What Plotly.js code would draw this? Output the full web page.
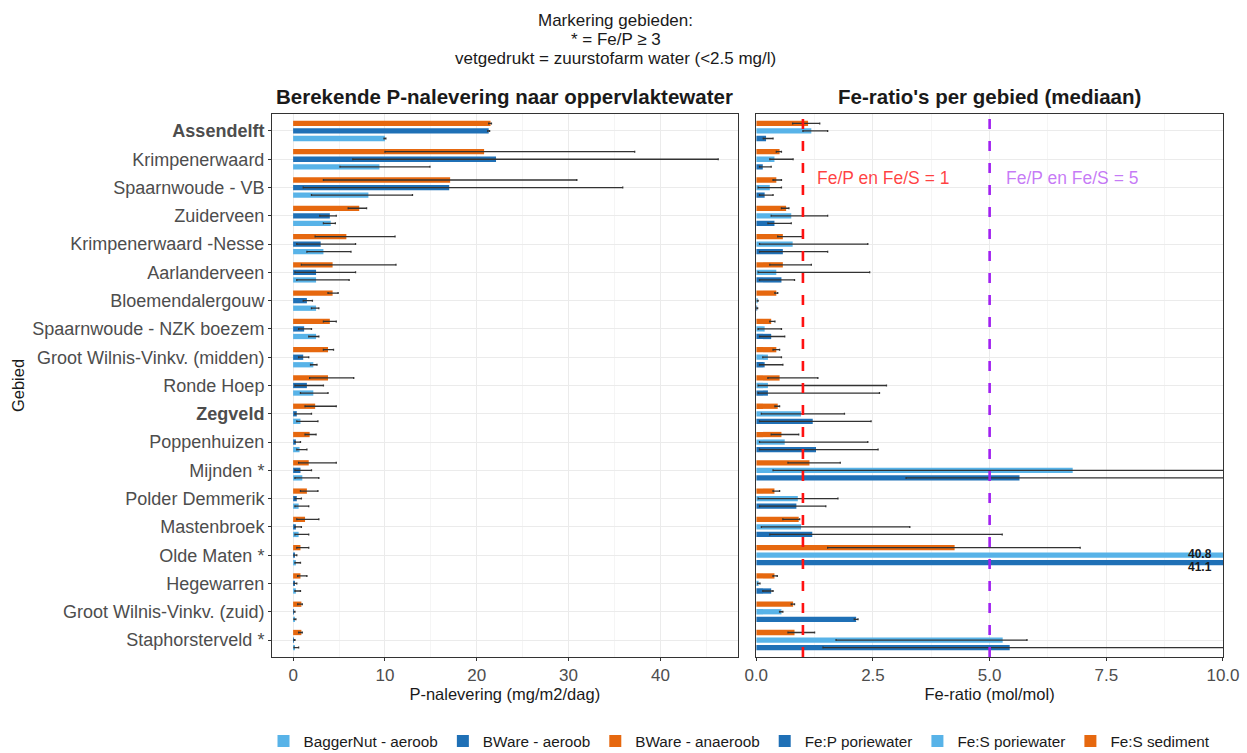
<!DOCTYPE html>
<html>
<head>
<meta charset="utf-8">
<script src="https://cdn.plot.ly/plotly-3.0.1.min.js"></script>
<style>html,body{margin:0;padding:0;background:#fff;}#chart{width:1247px;height:753px;}</style>
</head>
<body>
<div id="chart"></div>
<script>
// ---- categories ----
const categories = ["Assendelft","Krimpenerwaard","Spaarnwoude - VB","Zuiderveen","Krimpenerwaard -Nesse","Aarlanderveen","Bloemendalergouw","Spaarnwoude - NZK boezem","Groot Wilnis-Vinkv. (midden)","Ronde Hoep","Zegveld","Poppenhuizen","Mijnden *","Polder Demmerik","Mastenbroek","Olde Maten *","Hegewarren","Groot Wilnis-Vinkv. (zuid)","Staphorsterveld *"];
const boldCategories = ["Assendelft","Zegveld"];
const tickLabels = categories.map(c => boldCategories.includes(c) ? "<b>" + c + "</b>" : c);

const titleLines = ["Markering gebieden:", "* = Fe/P ≥ 3", "vetgedrukt = zuurstofarm water (&lt;2.5 mg/l)"];

// ---- left panel: P-nalevering (mg/m2/dag) ----
const bwareAnaeroob    = [21.5, 20.8, 17.1, 7.2, 5.8, 4.3, 4.3, 4.0, 3.8, 3.8, 2.4, 1.8, 1.7, 1.5, 1.3, 0.8, 0.8, 0.9, 0.9];
const bwareAnaeroobLo  = [21.3, 10.0, 3.3, 6.0, 2.4, 0.9, 3.8, 3.3, 3.3, 1.8, 1.3, 1.3, 0.6, 0.8, 0.4, 0.4, 0.5, 0.5, 0.6];
const bwareAnaeroobHi  = [21.6, 37.2, 30.9, 8.0, 11.1, 11.2, 4.9, 4.7, 4.4, 6.6, 4.7, 2.5, 4.7, 2.7, 2.8, 1.7, 1.5, 1.0, 1.0];

const bwareAeroob      = [21.3, 22.1, 17.0, 4.0, 3.0, 2.5, 1.5, 1.2, 1.1, 1.5, 0.4, 0.3, 0.8, 0.4, 0.3, 0.2, 0.2, 0.1, 0.1];
const bwareAeroobLo    = [21.2, 6.5, 1.1, 2.9, 0.4, 0.2, 1.1, 0.6, 0.6, 0.2, 0.2, 0.2, 0.2, 0.2, 0.2, 0.1, 0.1, 0.1, 0.1];
const bwareAeroobHi    = [21.4, 46.3, 35.9, 4.7, 6.8, 6.8, 2.1, 2.0, 1.7, 3.3, 2.0, 0.8, 2.0, 0.9, 0.9, 0.4, 0.4, 0.2, 0.2];

const baggerNutAeroob   = [10.0, 9.4, 8.2, 4.1, 3.3, 2.5, 2.5, 2.5, 2.2, 2.2, 0.8, 0.7, 1.0, 0.6, 0.6, 0.3, 0.3, 0.2, 0.2];
const baggerNutAeroobLo = [9.9, 5.1, 2.0, 3.3, 1.5, 0.4, 2.0, 1.7, 1.9, 0.8, 0.4, 0.4, 0.2, 0.2, 0.2, 0.2, 0.2, 0.1, 0.1];
const baggerNutAeroobHi = [10.1, 14.9, 13.0, 4.6, 6.3, 6.1, 2.8, 2.8, 2.6, 3.8, 2.7, 1.5, 2.8, 1.7, 1.7, 0.8, 0.8, 0.3, 0.6];

// ---- right panel: Fe-ratio (mol/mol) ----
const feSSediment     = [1.11, 0.50, 0.43, 0.64, 0.57, 0.57, 0.43, 0.32, 0.43, 0.50, 0.46, 0.54, 1.14, 0.39, 0.91, 4.25, 0.39, 0.79, 0.82];
const feSSedimentLo   = [0.78, 0.43, 0.36, 0.54, 0.46, 0.29, 0.40, 0.29, 0.36, 0.25, 0.40, 0.32, 0.68, 0.36, 0.57, 1.53, 0.36, 0.75, 0.68];
const feSSedimentHi   = [1.36, 0.54, 0.54, 0.70, 1.00, 1.18, 0.46, 0.40, 0.50, 1.32, 0.50, 0.91, 1.80, 0.50, 0.93, 6.94, 0.45, 0.82, 1.25];

const feSPorie        = [1.18, 0.39, 0.29, 0.75, 0.78, 0.43, 0.03, 0.18, 0.25, 0.25, 0.96, 0.61, 6.78, 0.89, 0.96, 40.8, 0.05, 0.54, 5.28];
const feSPorieLo      = [1.00, 0.29, 0.04, 0.32, 0.07, 0.04, 0.02, 0.04, 0.14, 0.04, 0.11, 0.07, 0.36, 0.04, 0.11, 40.8, 0.03, 0.50, 1.71];
const feSPorieHi      = [1.53, 0.79, 0.54, 1.53, 2.39, 2.43, 0.04, 0.54, 0.54, 2.79, 1.89, 2.39, 12.0, 1.75, 3.29, 40.8, 0.08, 0.57, 5.80];

const fePPorie        = [0.21, 0.14, 0.18, 0.39, 0.57, 0.54, 0.02, 0.32, 0.18, 0.25, 1.21, 1.28, 5.64, 0.86, 1.20, 41.1, 0.32, 2.14, 5.43];
const fePPorieLo      = [0.15, 0.07, 0.07, 0.25, 0.07, 0.07, 0.01, 0.07, 0.07, 0.04, 0.07, 0.07, 3.21, 0.07, 0.29, 41.1, 0.14, 2.10, 1.43];
const fePPorieHi      = [0.36, 0.32, 0.36, 0.75, 1.53, 0.82, 0.03, 0.61, 0.57, 2.64, 2.46, 2.61, 14.0, 1.49, 5.27, 41.1, 0.36, 2.18, 14.0];

const clippedLabels = ["40.8", "41.1"];

const ORANGE = "#E6680F", DARK = "#1F70B6", LIGHT = "#58B3E8";
const FONT = "Liberation Sans, Arial, sans-serif";

function barTrace(name, vals, lo, hi, color, xa, ya, rank) {
  return {
    type: "bar", orientation: "h", name: name,
    x: vals, y: categories, xaxis: xa, yaxis: ya,
    marker: {color: color, line: {width: 0}},
    legendrank: rank,
    error_x: {
      type: "data", symmetric: false,
      array: vals.map((v, i) => Math.max(0, hi[i] - v)),
      arrayminus: vals.map((v, i) => Math.max(0, v - lo[i])),
      color: "#333333", thickness: 1.3, width: 1
    },
    hoverinfo: "x+y+name"
  };
}

const data = [
  barTrace("BWare - anaeroob", bwareAnaeroob, bwareAnaeroobLo, bwareAnaeroobHi, ORANGE, "x", "y", 3),
  barTrace("BWare - aeroob", bwareAeroob, bwareAeroobLo, bwareAeroobHi, DARK, "x", "y", 2),
  barTrace("BaggerNut - aeroob", baggerNutAeroob, baggerNutAeroobLo, baggerNutAeroobHi, LIGHT, "x", "y", 1),
  barTrace("Fe:S sediment", feSSediment, feSSedimentLo, feSSedimentHi, ORANGE, "x2", "y2", 6),
  barTrace("Fe:S poriewater", feSPorie, feSPorieLo, feSPorieHi, LIGHT, "x2", "y2", 5),
  barTrace("Fe:P poriewater", fePPorie, fePPorieLo, fePPorieHi, DARK, "x2", "y2", 4)
];

const gridCol = "#EBEBEB";
const axisCommon = {
  showline: true, mirror: true, linecolor: "#333333", linewidth: 1,
  gridcolor: gridCol, gridwidth: 1, zeroline: false,
  ticks: "outside", ticklen: 3, tickcolor: "#333333",
  tickfont: {family: FONT, size: 17, color: "#4D4D4D"}
};

const titleY = [20, 40, 59];
const annTitle = titleLines.map((t, i) => ({
  text: t, xref: "paper", yref: "paper", x: 0.3613, y: 1 + (114 - titleY[i]) / 543,
  xanchor: "center", yanchor: "middle", showarrow: false,
  font: {family: FONT, size: 17, color: "#1a1a1a"}
}));

const layout = {
  width: 1247, height: 753,
  paper_bgcolor: "#fff", plot_bgcolor: "#fff",
  margin: {l: 272, r: 24, t: 114, b: 96, autoexpand: false},
  font: {family: FONT, color: "#1a1a1a"},
  barmode: "group", bargap: 0.2, bargroupgap: 0.3,
  xaxis: Object.assign({}, axisCommon, {
    domain: [0, 0.4895], range: [-2.3, 48.4],
    tickvals: [0, 10, 20, 30, 40],
    minor: {dtick: 5, tick0: 0, showgrid: true, gridcolor: "#F5F5F5", gridwidth: 1, ticks: ""},
    title: {text: "P-nalevering (mg/m2/dag)", font: {family: FONT, size: 16.5, color: "#1a1a1a"}, standoff: 0}
  }),
  yaxis: Object.assign({}, axisCommon, {
    domain: [0, 1], type: "category", range: [18.6, -0.6],
    tickvals: categories, ticktext: tickLabels,
    tickfont: {family: FONT, size: 18, color: "#4D4D4D"},
    title: {text: "Gebied", font: {family: FONT, size: 16.5, color: "#1a1a1a"}, standoff: 3}
  }),
  xaxis2: Object.assign({}, axisCommon, {
    domain: [0.5092, 1], range: [0, 10], anchor: "y2",
    tickvals: [0, 2.5, 5, 7.5, 10], ticktext: ["0.0", "2.5", "5.0", "7.5", "10.0"],
    minor: {dtick: 1.25, tick0: 0, showgrid: true, gridcolor: "#F5F5F5", gridwidth: 1, ticks: ""},
    title: {text: "Fe-ratio (mol/mol)", font: {family: FONT, size: 16.5, color: "#1a1a1a"}, standoff: 0}
  }),
  yaxis2: Object.assign({}, axisCommon, {
    domain: [0, 1], type: "category", range: [18.6, -0.6], anchor: "x2",
    matches: "y", showticklabels: false, ticks: ""
  }),
  showlegend: true,
  legend: {
    orientation: "h", xref: "paper", x: 0.4916, xanchor: "center",
    yref: "paper", y: -0.155, yanchor: "middle",
    font: {family: FONT, size: 15.3, color: "#1a1a1a"},
    itemwidth: 30, traceorder: "normal"
  },
  shapes: [
    {type: "line", xref: "x2", yref: "paper", x0: 1, x1: 1, y0: 0, y1: 1,
     line: {color: "#FF1111", width: 2.6, dash: "10px,12px"}},
    {type: "line", xref: "x2", yref: "paper", x0: 5, x1: 5, y0: 0, y1: 1,
     line: {color: "#A020F0", width: 2.6, dash: "10px,12px"}}
  ],
  annotations: annTitle.concat([
    {text: "<b>Berekende P-nalevering naar oppervlaktewater</b>", xref: "paper", yref: "paper",
     x: 0.2447, y: 1.0331, xanchor: "center", yanchor: "middle", showarrow: false,
     font: {family: FONT, size: 20.5, color: "#1a1a1a"}},
    {text: "<b>Fe-ratio's per gebied (mediaan)</b>", xref: "paper", yref: "paper",
     x: 0.7545, y: 1.0331, xanchor: "center", yanchor: "middle", showarrow: false,
     font: {family: FONT, size: 20.5, color: "#1a1a1a"}},
    {text: "Fe/P en Fe/S = 1", xref: "x2", yref: "y2", x: 2.71, y: 1.65,
     xanchor: "center", yanchor: "middle", showarrow: false,
     font: {family: FONT, size: 17.5, color: "rgba(255,30,30,0.85)"}},
    {text: "Fe/P en Fe/S = 5", xref: "x2", yref: "y2", x: 6.77, y: 1.65,
     xanchor: "center", yanchor: "middle", showarrow: false,
     font: {family: FONT, size: 17.5, color: "rgba(160,32,240,0.6)"}},
    {text: "<b>" + clippedLabels[0] + "</b>", xref: "x2", yref: "y2", x: 9.8, y: 14.97,
     xanchor: "right", yanchor: "middle", showarrow: false,
     font: {family: FONT, size: 12, color: "#1a1a1a"}},
    {text: "<b>" + clippedLabels[1] + "</b>", xref: "x2", yref: "y2", x: 9.8, y: 15.42,
     xanchor: "right", yanchor: "middle", showarrow: false,
     font: {family: FONT, size: 12, color: "#1a1a1a"}}
  ])
};

Plotly.newPlot("chart", data, layout, {displayModeBar: false, staticPlot: true});
</script>
</body>
</html>
